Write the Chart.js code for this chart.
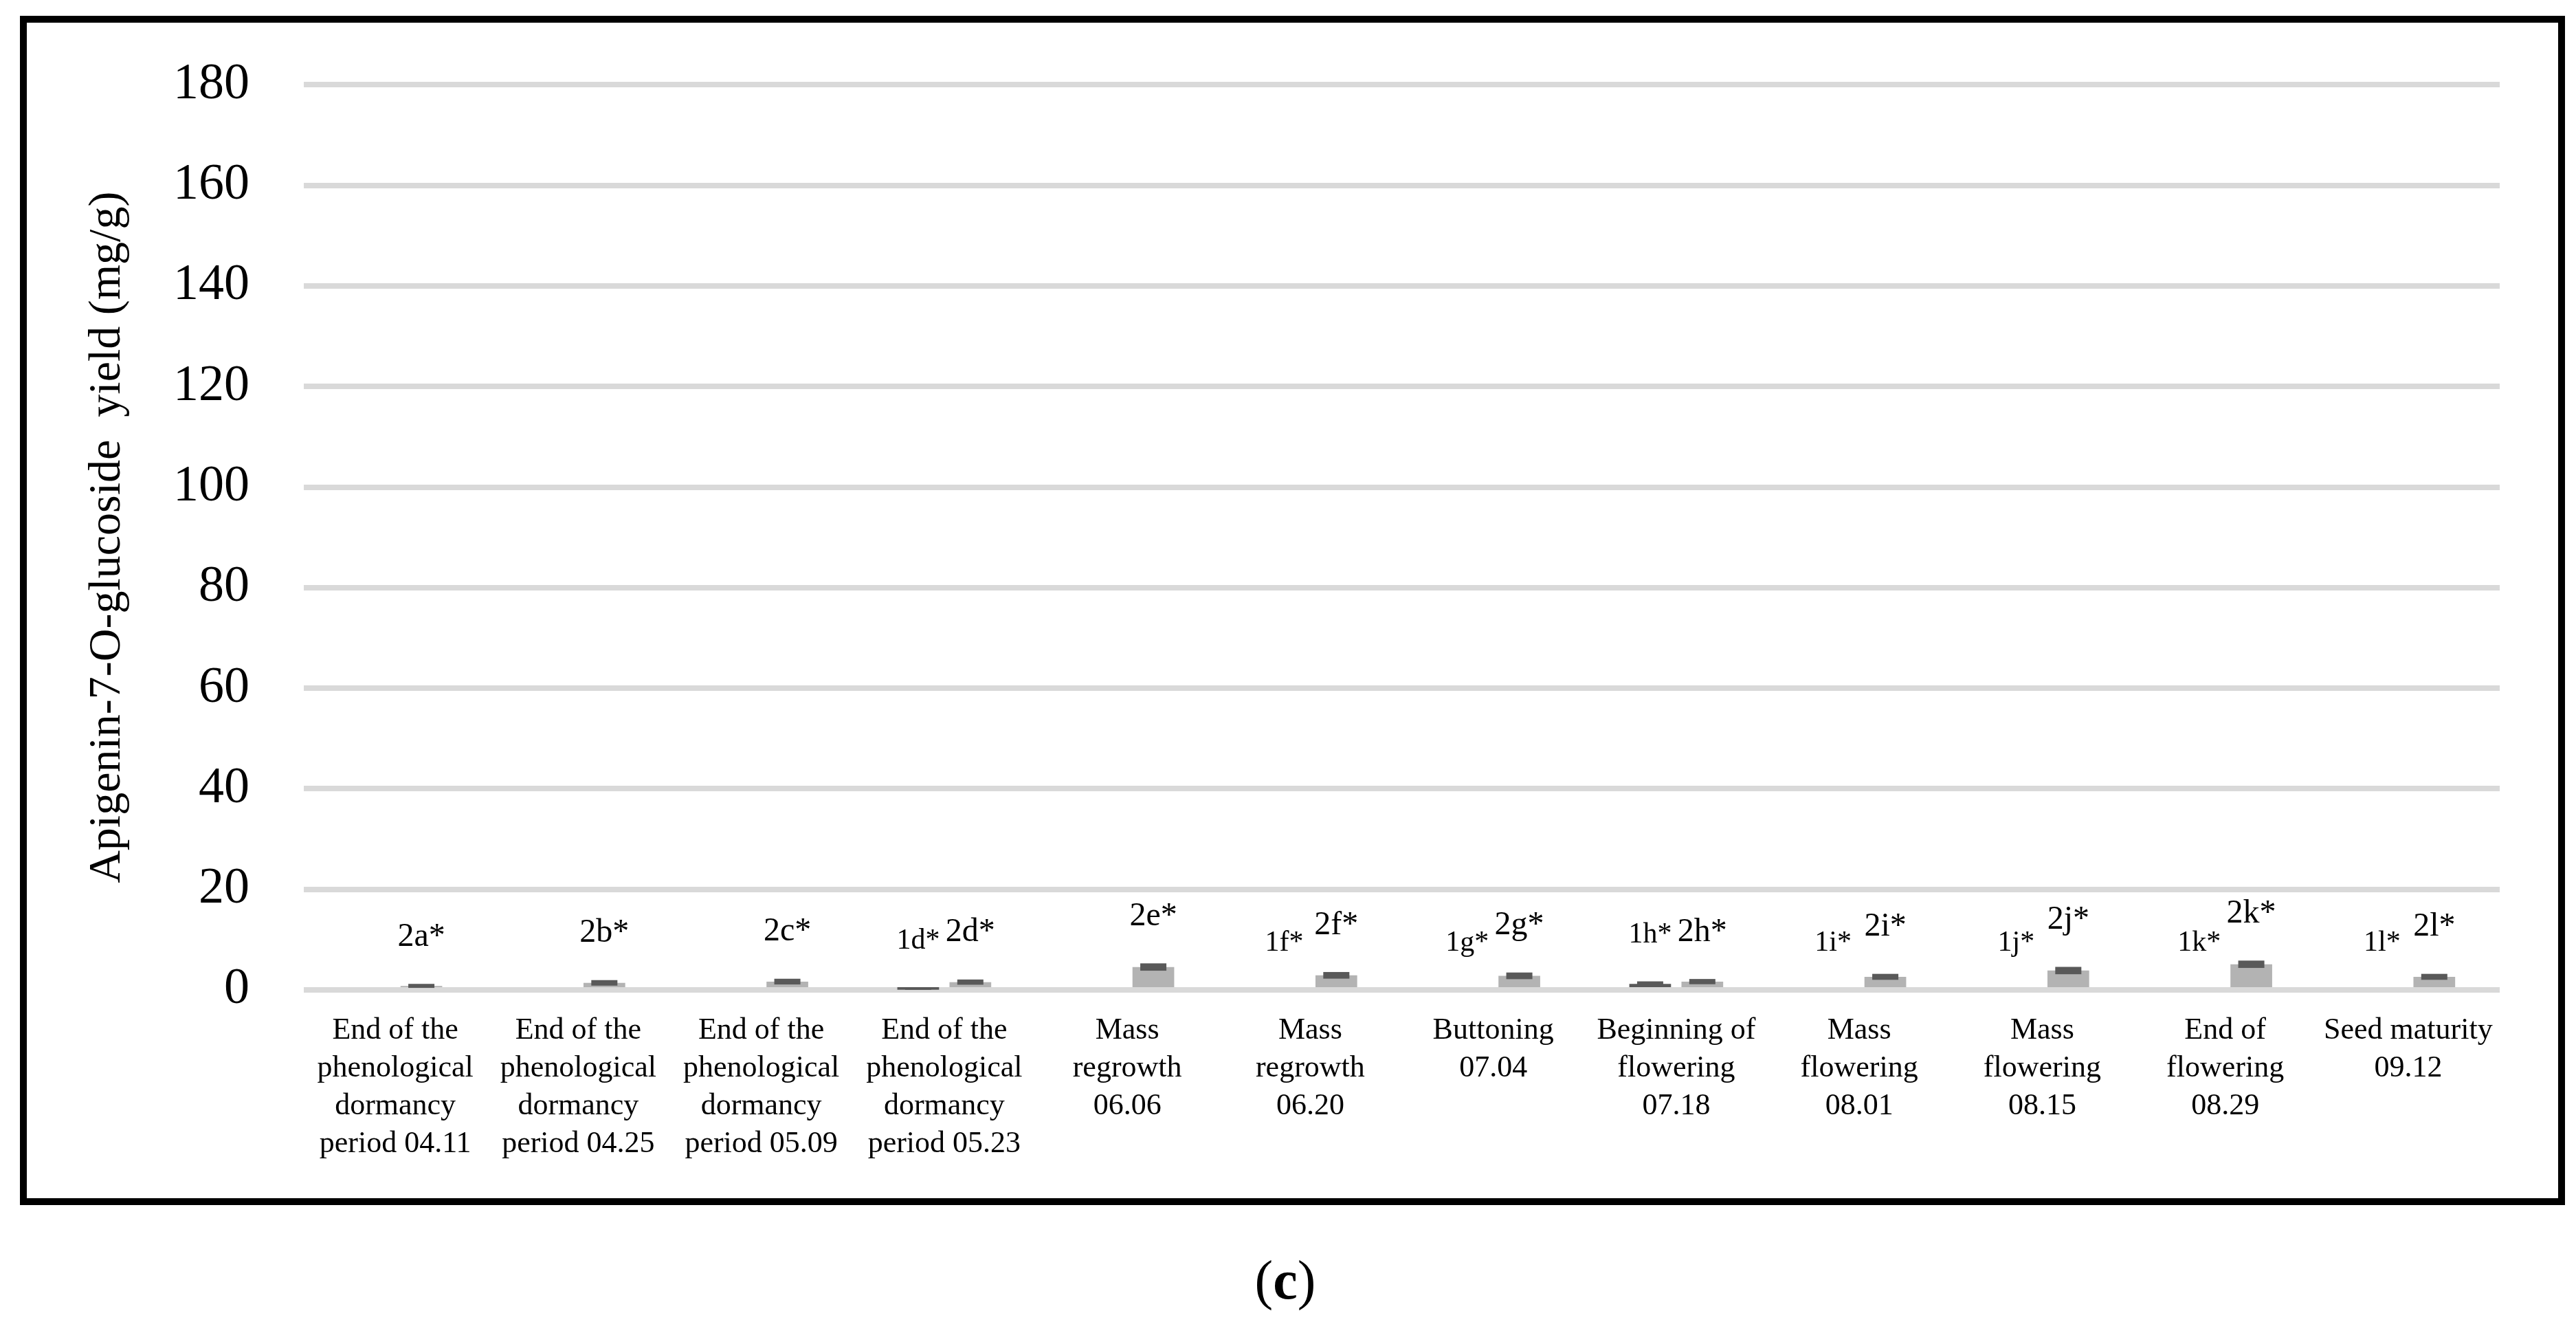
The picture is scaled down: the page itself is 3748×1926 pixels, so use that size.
<!DOCTYPE html>
<html>
<head>
<meta charset="utf-8">
<script src="https://cdn.jsdelivr.net/npm/chart.js@4.4.1/dist/chart.umd.min.js"></script>
<style>
  html, body { margin: 0; padding: 0; background: #fff; }
  #wrap { position: relative; width: 3748px; height: 1926px; }
  #mainChart { position: absolute; left: 0; top: 0; }
  #frame {
    position: absolute; left: 29px; top: 23px; width: 3703px; height: 1730px;
    border: 10px solid #000; box-sizing: border-box; pointer-events: none;
  }
  #panel {
    position: absolute; left: 1770px; width: 200px; top: 1812px; text-align: center;
    font-family: "Liberation Serif", serif; font-size: 80px; line-height: 100px; color: #000;
  }
</style>
</head>
<body>
<div id="wrap">
  <canvas id="mainChart" width="3748" height="1926"></canvas>
  <div id="frame"></div>
  <div id="panel">(<b>c</b>)</div>
</div>
<script>
// stages (x axis)
var categories = [
  ['End of the', 'phenological', 'dormancy', 'period 04.11'],
  ['End of the', 'phenological', 'dormancy', 'period 04.25'],
  ['End of the', 'phenological', 'dormancy', 'period 05.09'],
  ['End of the', 'phenological', 'dormancy', 'period 05.23'],
  ['Mass', 'regrowth', '06.06'],
  ['Mass', 'regrowth', '06.20'],
  ['Buttoning', '07.04'],
  ['Beginning of', 'flowering', '07.18'],
  ['Mass', 'flowering', '08.01'],
  ['Mass', 'flowering', '08.15'],
  ['End of', 'flowering', '08.29'],
  ['Seed maturity', '09.12']
];

// yield, mg/g
var series1 = [0, 0, 0, 0.05, 0, 0, 0, 1.2, 0, 0, 0, 0];
var series2 = [0.8, 1.4, 1.65, 1.55, 4.55, 2.9, 2.8, 1.65, 2.6, 3.85, 5.1, 2.6];
var err1 = [null, null, null, 0.35, null, null, null, 0.5, null, null, null, null];
var err2 = [0.4, 0.55, 0.57, 0.52, 0.73, 0.66, 0.66, 0.52, 0.59, 0.73, 0.73, 0.59];

// significance letters
var letters1 = [null, null, null, '1d*', null, '1f*', '1g*', '1h*', '1i*', '1j*', '1k*', '1l*'];
var letters2 = ['2a*', '2b*', '2c*', '2d*', '2e*', '2f*', '2g*', '2h*', '2i*', '2j*', '2k*', '2l*'];

var yTicks = [0, 20, 40, 60, 80, 100, 120, 140, 160, 180];

var FONT = '"Liberation Serif", "Times New Roman", serif';
var errors = [err1, err2];
var letters = [letters1, letters2];
var letterSize = [42, 48];

var errorBars = {
  id: 'errorBars',
  afterDatasetsDraw: function (chart) {
    var ctx = chart.ctx,
      y = chart.scales.y,
      area = chart.chartArea;
    ctx.save();
    ctx.beginPath();
    ctx.rect(area.left, area.top, area.right - area.left, area.bottom - area.top);
    ctx.clip();
    ctx.fillStyle = '#595959';
    chart.data.datasets.forEach(function (ds, i) {
      chart.getDatasetMeta(i).data.forEach(function (bar, j) {
        var e = errors[i][j];
        if (e == null) return;
        var top = y.getPixelForValue(ds.data[j] + e),
          bottom = y.getPixelForValue(ds.data[j] - e);
        ctx.fillRect(bar.x - 19, top, 38, bottom - top);
      });
    });
    ctx.restore();

    ctx.save();
    ctx.fillStyle = '#000';
    ctx.textAlign = 'center';
    ctx.textBaseline = 'middle';
    chart.data.datasets.forEach(function (ds, i) {
      ctx.font = letterSize[i] + 'px ' + FONT;
      chart.getDatasetMeta(i).data.forEach(function (bar, j) {
        var txt = letters[i][j];
        if (!txt) return;
        var top = y.getPixelForValue(ds.data[j] + (errors[i][j] || 0));
        ctx.fillText(txt, bar.x, top - 68);
      });
    });
    ctx.restore();
  }
};

var ctx = document.getElementById('mainChart'),
  myChart;

function draw () {
  myChart = new Chart(ctx, {
    type: 'bar',
    data: {
      labels: categories,
      datasets: [{
        label: 'Series 1',
        data: series1,
        backgroundColor: '#595959',
        borderWidth: 0
      }, {
        label: 'Series 2',
        data: series2,
        backgroundColor: '#b3b3b3',
        borderWidth: 0
      }]
    },
    options: {
      responsive: false,
      animation: false,
      devicePixelRatio: 1,
      categoryPercentage: 0.57,
      barPercentage: 0.8,
      layout: {
        padding: { left: 40, top: 120, right: 111, bottom: 0 }
      },
      plugins: {
        legend: { display: false },
        tooltip: { enabled: false }
      },
      scales: {
        x: {
          grid: { display: false, drawTicks: false },
          border: { display: false },
          ticks: {
            color: '#000',
            padding: 32,
            maxRotation: 0,
            autoSkip: false,
            font: { family: FONT, size: 44, lineHeight: 1.25 }
          },
          afterFit: function (scale) { scale.height = 486; }
        },
        y: {
          min: 0,
          max: 180,
          afterBuildTicks: function (scale) {
            scale.ticks = yTicks.map(function (v) { return { value: v }; });
          },
          grid: { color: '#d9d9d9', lineWidth: 8, drawTicks: false },
          border: { display: false },
          ticks: {
            color: '#000',
            padding: 79,
            font: { family: FONT, size: 74 }
          },
          title: {
            display: true,
            text: 'Apigenin-7-O-glucoside  yield (mg/g)',
            color: '#000',
            padding: { top: 77, bottom: 0 },
            font: { family: FONT, size: 66 }
          },
          afterFit: function (scale) { scale.width = 402; }
        }
      }
    },
    plugins: [errorBars]
  });
}

draw();
</script>
</body>
</html>
